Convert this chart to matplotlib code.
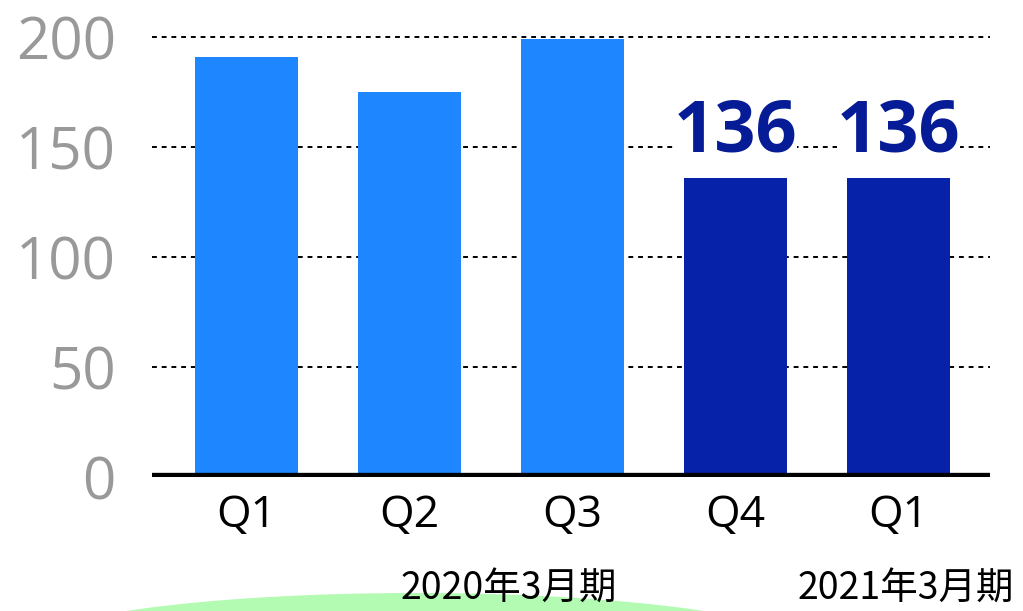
import matplotlib
matplotlib.use('Agg')
import matplotlib.pyplot as plt
from matplotlib.patches import Ellipse

# データ
quarters = ['Q1', 'Q2', 'Q3', 'Q4', 'Q1']
values = [191, 175, 199, 136, 136]
colors = ['#1e86ff', '#1e86ff', '#1e86ff', '#0622a8', '#0622a8']
labeled = [False, False, False, True, True]
yticks = [0, 50, 100, 150, 200]
period_labels = ['2020年3月期', '2021年3月期']

plt.rcParams['font.family'] = ['Open Sans', 'Noto Sans CJK JP', 'DejaVu Sans']

fig = plt.figure(figsize=(10.23, 6.11), dpi=100)

# 下の緑の楕円
bg = fig.add_axes([0, 0, 1, 1], zorder=0)
bg.set_xlim(0, 1023)
bg.set_ylim(611, 0)
bg.axis('off')
bg.add_patch(Ellipse((415, 648), 780, 110, color='#b3fbb3', lw=0))

ax = fig.add_axes([152 / 1023, 134 / 611, (990 - 152) / 1023, 451 / 611], zorder=1)
ax.patch.set_alpha(0)

x = list(range(len(values)))
ax.bar(x, values, width=0.63, color=colors, zorder=2)

for i in yticks[1:]:
    ax.axhline(i, color='black', lw=1.4, ls=(0, (2.5, 2.5)), zorder=1)
ax.axhline(0, color='black', lw=6, zorder=3)

for xi, v, lab in zip(x, values, labeled):
    if lab:
        ax.annotate(str(v), (xi, v), xytext=(0, 7), textcoords='offset points',
                    ha='center', va='bottom', fontsize=52, fontweight='bold',
                    color='#061c96', zorder=4,
                    bbox=dict(facecolor='white', edgecolor='none', pad=0))

ax.set_xlim(-0.577, 4.56)
ax.set_ylim(0, 205)
ax.set_xticks(x)
ax.set_xticklabels(quarters, fontsize=32, color='black')
ax.set_yticks(yticks)
ax.set_yticklabels([str(t) for t in yticks], fontsize=42, color='#999999')
ax.tick_params(length=0)
ax.tick_params(axis='x', pad=12)
ax.tick_params(axis='y', pad=26)
for s in ax.spines.values():
    s.set_visible(False)

fig.text(509 / 1023, 2 / 611, period_labels[0], ha='center', va='bottom', fontsize=27,
         family=['Noto Sans CJK JP'], zorder=5)
fig.text(906 / 1023, 2 / 611, period_labels[1], ha='center', va='bottom', fontsize=27,
         family=['Noto Sans CJK JP'], zorder=5)

fig.savefig('out.png', dpi=100)
